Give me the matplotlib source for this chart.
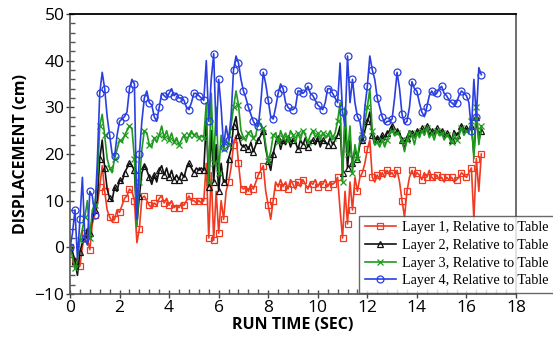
import numpy as np
import matplotlib
matplotlib.use("Agg")
import matplotlib.pyplot as plt
from matplotlib.ticker import MultipleLocator

# time base (s), 0.1 s step
t_start, t_step = 0.0, 0.1

layer1 = [0, -1, -3, -4.5, -4, 0, 3, 2, -0.5, 5, 7, 9, 13, 17.5, 12, 8, 6.5, 5.5, 6, 8,
          7.5, 9, 10.5, 11, 12.5, 12, 10, 1, 4, 10.5, 11, 10, 9, 8.5, 9.5, 9, 10.5, 11, 9.5, 10.5,
          9, 10, 8.5, 9, 8.5, 9.5, 9, 10, 11, 10, 10, 9.5, 10, 9.5, 10, 18, 2, 16, 1.5, 12,
          3, 10, 6, 12, 14, 17, 22, 24, 18, 13, 12.5, 13, 12, 13.5, 12.5, 14, 15.5, 16.5, 17.5, 12,
          9, 6, 10, 14, 13, 14.5, 13, 14, 12.5, 14.5, 13.5, 12.5, 14, 13, 14.5, 13.5, 12.5, 14, 13.5, 14.5,
          13, 14, 13.5, 14.5, 13, 14, 13.5, 14, 15, 8, 2, 12, 5, 14, 8, 15, 12, 15, 16, 18,
          21, 23, 15, 14, 15.5, 14.5, 16, 15, 16.5, 15.5, 16, 15, 16.5, 14, 10, 6.5, 12, 15, 16.5, 15,
          16, 15.5, 14.5, 16, 15, 16.5, 15, 14.5, 15.5, 14.5, 15, 14, 15, 14.5, 15, 14, 14.5, 15, 16, 15.5,
          15, 16, 17, 6, 19, 12, 20]

layer2 = [0, -1, -3, -6, -1, 1, 2, 4, 3, 6, 8, 10, 19, 23, 17, 12.5, 10.5, 10, 13, 12,
          14.5, 14, 16, 17, 18, 17.5, 16.5, 5, 11, 16, 17.5, 16.5, 15, 13.5, 15.5, 14, 16.5, 17.5, 15.5, 17,
          15, 16.5, 14.5, 15.5, 14.5, 16, 15, 17, 18, 17, 16, 17, 16.5, 17, 16.5, 27, 13, 25, 14, 22,
          12, 18, 14, 14, 19, 21, 26, 28, 24, 22, 21.5, 22, 21, 22.5, 20.5, 22, 23, 24, 25, 21,
          18.5, 16.5, 20, 22.5, 23.5, 21, 23, 22, 23.5, 21.5, 23, 22.5, 21, 23, 22, 23.5, 21.5, 22.5, 23, 22,
          23.5, 21.5, 23, 22.5, 22, 23.5, 22, 23, 24, 26, 16, 27, 17, 23, 18, 21, 19, 22, 23, 25,
          27, 29, 24, 22, 23.5, 22.5, 24, 23, 24.5, 25, 26, 24, 25, 24.5, 23, 21, 23.5, 25, 24.5, 23.5,
          25, 24, 25.5, 24.5, 26, 24, 25, 24, 25.5, 24.5, 25, 23.5, 24.5, 24, 23, 25, 24, 24.5, 26, 24.5,
          25.5, 25, 26, 20, 28, 23, 25]

layer3 = [0, -2, -4.5, -3, 1.5, 4, 6.5, 10, 2, 8, 9, 14, 26, 28.5, 24, 19, 17, 16, 19, 21,
          23, 22.5, 24, 25, 26, 25.5, 19, 4.5, 14, 21, 25, 24.5, 22, 21.5, 23.5, 22.5, 24, 26, 23.5, 25,
          23, 24.5, 22.5, 23.5, 22, 23, 24, 22.5, 24, 25, 24, 24.5, 23.5, 24, 23.5, 31, 14, 33, 18, 30,
          16, 24, 21, 23, 22, 26, 30, 33.5, 30.5, 25, 23.5, 23, 24.5, 25, 23.5, 24, 27, 26, 25.5, 22,
          18.5, 20.5, 24, 24.5, 22.5, 25, 23.5, 24.5, 23, 25, 24, 22.5, 24.5, 23, 25, 24, 22.5, 24, 25, 23.5,
          24.5, 23, 24.5, 23.5, 24, 25, 23.5, 24.5, 27, 31, 14, 30, 20, 26, 16, 22, 19, 23, 24, 27,
          30, 34, 25, 22, 22.5, 21.5, 23, 21.5, 23, 24.5, 25, 24, 24.5, 24, 23, 20.5, 23, 25, 24, 22,
          24.5, 23.5, 25, 24, 25.5, 23.5, 24.5, 23, 25, 24, 24.5, 23, 24, 23.5, 22.5, 24.5, 23, 24, 25.5, 24,
          25, 24.5, 27, 19, 30, 22, 26]

layer4 = [0, 3, 8, -2.5, 6, 15, 2, 0.5, 12, 11, 7, 18, 33, 37.5, 34, 28, 24, 20, 19.5, 24,
          27, 27.5, 28, 29, 34, 36, 35, 6, 20, 27, 32, 33.5, 31, 30.5, 28, 27, 30, 33, 32.5, 32,
          33, 34, 32.5, 33, 32, 32, 31.5, 30, 29.5, 31, 33, 33, 32.5, 32, 31.5, 40, 27, 36, 41.5, 24,
          36, 30, 21.5, 26, 23, 28, 38, 41, 39.5, 36, 33.5, 32, 30, 28.5, 27, 26, 26, 31, 37.5, 35,
          31.5, 28, 27.5, 30, 33, 35, 34, 31, 30, 29.5, 29.5, 30, 33.5, 33.5, 33, 33.5, 34.5, 33, 32.5, 31.5,
          30.5, 30, 29.5, 31, 34, 34, 33, 32, 31, 39.5, 29, 26, 41, 31, 36, 31, 28, 27, 23.5, 30,
          34.5, 41, 38, 36, 32, 30, 28, 26.5, 27, 27, 27.5, 32, 37.5, 34, 28.5, 26.5, 27, 30, 35.5, 34,
          33.5, 31, 29, 28, 30, 32.5, 33.5, 32.5, 33, 34, 34.5, 33, 32.5, 31.5, 31, 30.5, 31, 32.5, 33.5, 33,
          32.5, 31, 25, 36, 28, 38.5, 37]

labels = ["Layer 1, Relative to Table", "Layer 2, Relative to Table",
          "Layer 3, Relative to Table", "Layer 4, Relative to Table"]
colors = ["#f03a22", "#111111", "#1f9a1f", "#2a3fe0"]
markers = ["s", "^", "x", "o"]
series = [layer1, layer2, layer3, layer4]

x_ticks = [0, 2, 4, 6, 8, 10, 12, 14, 16, 18]
y_ticks = [-10, 0, 10, 20, 30, 40, 50]

fig = plt.figure(figsize=(5.53, 3.46), dpi=100)
ax = fig.add_axes([70/553, 1-294/346, (516-70)/553, (294-14)/346])

for vals, c, m, lab in zip(series, colors, markers, labels):
    t = t_start + t_step*np.arange(len(vals))
    ax.plot(t, vals, color=c, lw=1.2, marker=m, markersize=5,
            markerfacecolor='none', markeredgecolor=c, markeredgewidth=0.9,
            markevery=2, label=lab)

ax.set_xlim(0, 18)
ax.set_ylim(-10, 50)
ax.set_xticks(x_ticks)
ax.set_yticks(y_ticks)
ax.xaxis.set_minor_locator(MultipleLocator(0.4))
ax.yaxis.set_minor_locator(MultipleLocator(2))
ax.tick_params(which='major', direction='inout', length=6, width=1, color='#444444',
               labelsize=12.5, pad=1)
ax.tick_params(which='minor', direction='in', length=3.5, width=1, color='#555555')
ax.tick_params(top=False, right=False, which='both')
for lbl in ax.get_xticklabels() + ax.get_yticklabels():
    lbl.set_family('Open Sans')

for s in ['left', 'bottom', 'right']:
    ax.spines[s].set_color('#555555')
    ax.spines[s].set_linewidth(1.2)
ax.spines['top'].set_color('black')
ax.spines['top'].set_linewidth(1.3)

ax.set_xlabel('RUN TIME (SEC)', family='Open Sans', fontweight='bold', fontsize=11.5, labelpad=1)
ax.set_ylabel('DISPLACEMENT (cm)', family='Open Sans', fontweight='bold', fontsize=11.5, labelpad=4)

leg = ax.legend(loc='lower left', bbox_to_anchor=(359/553, 1-293/346),
                bbox_transform=fig.transFigure, prop={'family': 'Liberation Serif', 'size': 10.2},
                frameon=True, fancybox=False, borderpad=0.4, labelspacing=0.33,
                handlelength=2.2, handletextpad=0.4, borderaxespad=0)
leg.get_frame().set_edgecolor('#444444')
leg.get_frame().set_linewidth(1.0)

fig.savefig('out.png', dpi=100)
